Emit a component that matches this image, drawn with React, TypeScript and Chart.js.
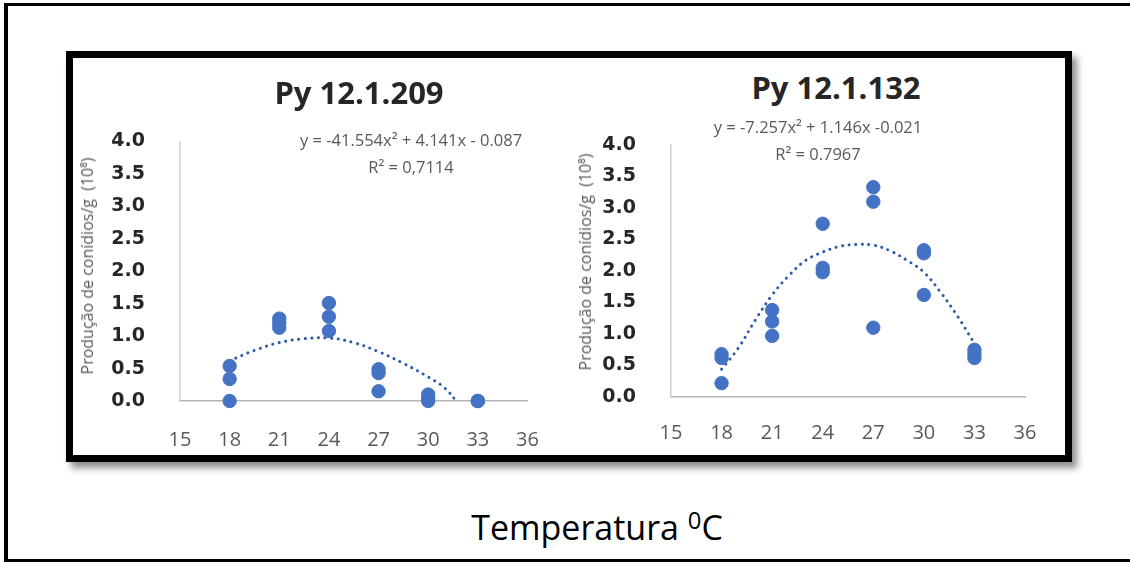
import React, { useEffect, useRef } from "react";
import { Chart, registerables } from "chart.js";

Chart.register(...registerables);

// ---- Data ----
const xTickMin = 15;
const xTickMax = 36;
const xTickStep = 3;
const yTickMin = 0;
const yTickMax = 4;
const yTickStep = 0.5;

// Py 12.1.209
const temps209 = [18, 18, 18, 21, 21, 21, 24, 24, 24, 27, 27, 27, 30, 30, 30, 33, 33, 33];
const conidia209 = [0, 0.34, 0.54, 1.13, 1.2, 1.27, 1.08, 1.3, 1.51, 0.15, 0.43, 0.49, 0, 0.04, 0.1, 0, 0, 0];
const trendTemps209 = [18, 19.5, 21, 22.5, 24, 25.5, 27, 28.5, 30, 31, 31.7];
const trendValues209 = [0.62, 0.78, 0.9, 0.96, 0.97, 0.9, 0.76, 0.58, 0.37, 0.2, 0.0];

// Py 12.1.132
const temps132 = [18, 18, 18, 21, 21, 21, 24, 24, 24, 27, 27, 27, 30, 30, 30, 33, 33, 33];
const conidia132 = [0.22, 0.62, 0.68, 0.97, 1.2, 1.38, 1.98, 2.05, 2.75, 1.1, 3.1, 3.33, 1.62, 2.28, 2.33, 0.62, 0.68, 0.75];
const trendTemps132 = [18, 19, 20, 21, 22, 23, 24, 25, 26, 27, 28, 29, 30, 31, 32, 33];
const trendValues132 = [0.44, 0.78, 1.22, 1.62, 1.93, 2.17, 2.3, 2.39, 2.42, 2.41, 2.32, 2.17, 1.98, 1.66, 1.28, 0.85];

const title209 = "Py 12.1.209";
const title132 = "Py 12.1.132";
const eq209 = "y = -41.554x² + 4.141x - 0.087";
const r2209 = "R² = 0,7114";
const eq132 = "y = -7.257x² + 1.146x -0.021";
const r2132 = "R² = 0.7967";
const yTitle = "Produção de conídios/g  (10⁸)";

type PanelProps = {
  left: number;
  top: number;
  width: number;
  height: number;
  yW: number;
  padTop: number;
  xH: number;
  padRight: number;
  xPad: number;
  temps: number[];
  values: number[];
  trendX: number[];
  trendY: number[];
};

function ScatterPanel(p: PanelProps) {
  const ref = useRef<HTMLCanvasElement>(null);
  useEffect(() => {
    const chart = new Chart(ref.current as HTMLCanvasElement, {
      type: "scatter",
      data: {
        datasets: [
          {
            type: "scatter",
            data: p.temps.map((t, i) => ({ x: t, y: p.values[i] })),
            backgroundColor: "#4472C4",
            borderColor: "#4472C4",
            borderWidth: 1,
            pointRadius: 6.7,
            pointHoverRadius: 6.7,
            order: 0,
            clip: false,
          } as any,
          {
            type: "line",
            data: p.trendX.map((t, i) => ({ x: t, y: p.trendY[i] })),
            borderColor: "#2F5BA8",
            borderWidth: 3,
            borderDash: [0.1, 6.5],
            borderCapStyle: "round",
            pointRadius: 0,
            tension: 0.4,
            fill: false,
            order: 1,
            clip: false,
          } as any,
        ],
      },
      options: {
        responsive: false,
        maintainAspectRatio: false,
        animation: false,
        events: [],
        layout: { padding: { top: p.padTop, right: p.padRight, left: 0, bottom: 0 } },
        plugins: {
          legend: { display: false },
          tooltip: { enabled: false },
          title: { display: false },
        },
        scales: {
          x: {
            type: "linear",
            min: xTickMin,
            max: xTickMax,
            grid: { display: false, drawTicks: false },
            border: { display: true, color: "#B4B4B4", width: 1.5 },
            ticks: {
              stepSize: xTickStep,
              padding: p.xPad,
              color: "#595959",
              autoSkip: false,
              maxRotation: 0,
              font: { family: '"Open Sans", sans-serif', size: 20 },
            },
            afterFit: (s: any) => {
              s.height = p.xH;
              s.paddingLeft = 12;
              s.paddingRight = 12;
            },
          },
          y: {
            type: "linear",
            min: yTickMin,
            max: yTickMax,
            grid: { display: false, drawTicks: false },
            border: { display: true, color: "#D0D0D0", width: 1.5 },
            ticks: {
              stepSize: yTickStep,
              padding: 35,
              color: "#262626",
              autoSkip: false,
              font: { family: '"DejaVu Sans", sans-serif', size: 19, weight: "bold" },
              callback: (v: any) => Number(v).toFixed(1),
            },
            afterFit: (s: any) => {
              s.width = p.yW;
              s.paddingTop = 12;
              s.paddingBottom = 12;
            },
          },
        },
      } as any,
    });
    return () => chart.destroy();
  }, []);
  return (
    <canvas
      ref={ref}
      width={p.width}
      height={p.height}
      style={{ position: "absolute", left: p.left, top: p.top, width: p.width, height: p.height }}
    />
  );
}

function Label(props: {
  x: number;
  y: number;
  text: React.ReactNode;
  size: number;
  color?: string;
  weight?: number;
  rotate?: boolean;
  spacing?: number;
}) {
  return (
    <div
      style={{
        position: "absolute",
        left: props.x,
        top: props.y,
        transform: `translate(-50%, -50%)${props.rotate ? " rotate(-90deg)" : ""}`,
        fontFamily: '"Open Sans", sans-serif',
        fontSize: props.size,
        fontWeight: props.weight ?? 400,
        color: props.color ?? "#595959",
        lineHeight: 1,
        whiteSpace: "pre",
        letterSpacing: props.spacing ?? 0,
      }}
    >
      {props.text}
    </div>
  );
}

export default function App() {
  return (
    <div
      style={{
        position: "absolute",
        left: 0,
        top: 0,
        width: 1130,
        height: 563,
        background: "#ffffff",
        overflow: "hidden",
      }}
    >
      {/* outer frame */}
      <div
        style={{
          position: "absolute",
          left: 4,
          top: 3,
          width: 1140,
          height: 553,
          borderLeft: "4px solid #000",
          borderTop: "3px solid #000",
          borderBottom: "3px solid #000",
        }}
      />
      {/* inner thick box with shadow */}
      <div
        style={{
          position: "absolute",
          left: 66,
          top: 51,
          width: 992,
          height: 397,
          border: "7px solid #000",
          boxShadow: "5px 6px 7px rgba(0,0,0,0.45)",
          background: "#fff",
        }}
      />

      <ScatterPanel
        left={75}
        top={110}
        width={480}
        height={345}
        yW={105}
        padTop={31.5}
        xH={54}
        padRight={27.5}
        xPad={27}
        temps={temps209}
        values={conidia209}
        trendX={trendTemps209}
        trendY={trendValues209}
      />
      <ScatterPanel
        left={560}
        top={110}
        width={500}
        height={340}
        yW={111}
        padTop={35}
        xH={53}
        padRight={35}
        xPad={24}
        temps={temps132}
        values={conidia132}
        trendX={trendTemps132}
        trendY={trendValues132}
      />

      <Label x={359} y={92} text={title209} size={31} weight={700} color="#262626" />
      <Label x={836} y={87} text={title132} size={31} weight={700} color="#262626" />

      <Label x={411} y={140} text={eq209} size={16.5} />
      <Label x={411} y={167} text={r2209} size={16.5} />
      <Label x={818} y={127} text={eq132} size={16.5} />
      <Label x={818} y={154} text={r2132} size={16.5} />

      <Label x={87} y={266} text={yTitle} size={16} rotate />
      <Label x={585} y={262} text={yTitle} size={16} rotate />

      <Label
        x={597}
        y={526}
        size={34}
        color="#000"
        text={
          <span>
            Temperatura <sup style={{ fontSize: "0.7em", verticalAlign: "0.45em" }}>0</sup>C
          </span>
        }
      />
    </div>
  );
}
